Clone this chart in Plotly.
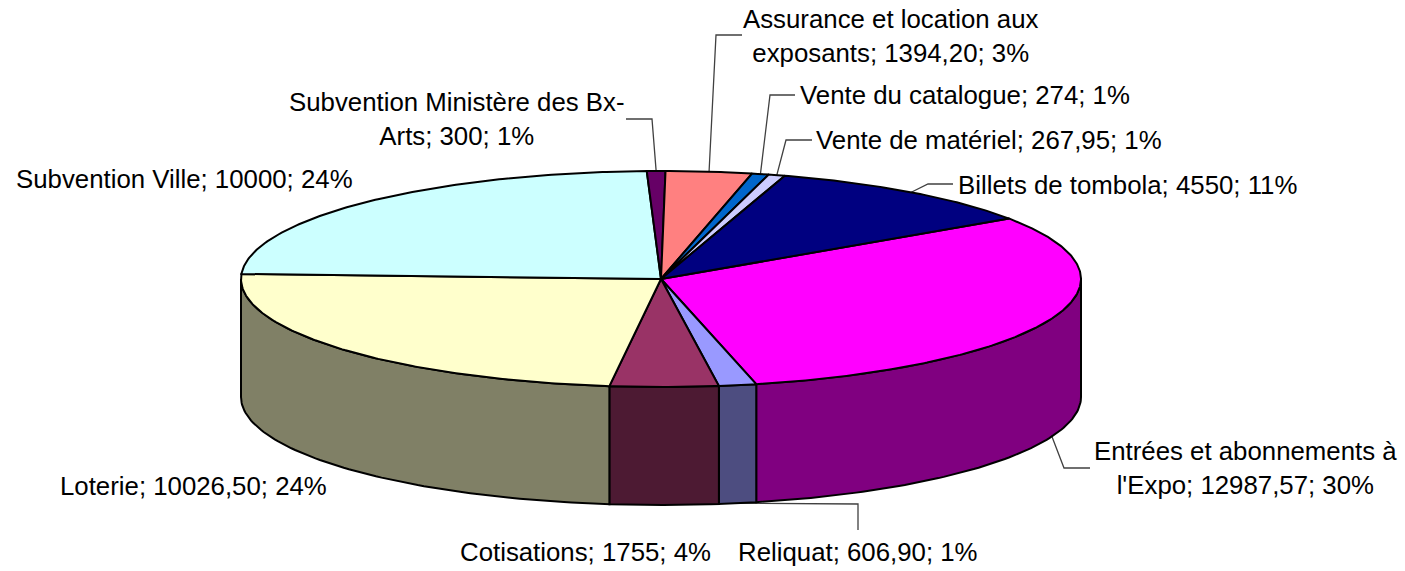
import numpy as np
import plotly.graph_objects as go

# --- data (clockwise from the top-right start angle)
categories = ["Entrées et abonnements à<br>l'Expo", "Reliquat", "Cotisations", "Loterie",
              "Subvention Ville", "Subvention Ministère des Bx-<br>Arts", "Assurance et location aux<br>exposants",
              "Vente du catalogue", "Vente de matériel", "Billets de tombola"]
values = [12987.57, 606.90, 1755, 10026.50, 10000, 300, 1394.20, 274, 267.95, 4550]
value_texts = ["12987,57", "606,90", "1755", "10026,50", "10000", "300", "1394,20", "274", "267,95", "4550"]
percent_texts = ["30%", "1%", "4%", "24%", "24%", "1%", "3%", "1%", "1%", "11%"]

# --- styling / layout
top_colors = ["#FF00FF", "#9999FF", "#993366", "#FFFFCC", "#CCFFFF", "#660066", "#FF8080", "#0066CC", "#CCCCFF", "#000080"]
side_colors = ["#800080", "#4D4D80", "#4D1A33", "#808066", "#668080", "#330033", "#804040", "#003366", "#666680", "#000040"]
label_x = [1245, 858, 585, 193, 184, 457, 891, 965, 989, 1127]
label_y = [468, 552, 552, 486, 179, 119, 36, 95, 140, 185]
leader_bends = {0: [(1064, 468), (1090, 468)], 1: [(858, 504), (858, 530)],
                5: [(652, 119), (626, 119)], 6: [(716, 35), (742, 35)],
                7: [(770, 95), (795, 95)], 8: [(786, 140), (812, 140)], 9: [(928, 184), (953, 184)]}
CX, CY, RX, RY, DEPTH = 661, 279, 420, 108, 118
START_DEG = 56
FONT = dict(family="Liberation Sans, Arial, sans-serif", size=25.8, color="black")
EDGE = dict(color="black", width=2)


def ex(deg):
    return CX + RX * np.sin(np.radians(deg))


def ey(deg):
    return CY - RY * np.cos(np.radians(deg))


spans = np.array(values) / sum(values) * 360
starts = START_DEG + np.concatenate([[0], np.cumsum(spans)[:-1]])
ends = starts + spans
fig = go.Figure()

# leader lines, beneath the pie
for i, bends in leader_bends.items():
    mid = (starts[i] + ends[i]) / 2
    front = 90 < (mid % 360) < 270
    xs = [ex(mid)] + [p[0] for p in bends]
    ys = [ey(mid) + (DEPTH if front else 0)] + [p[1] for p in bends]
    fig.add_trace(go.Scatter(x=xs, y=ys, mode="lines", line=dict(color="#404040", width=1.3), hoverinfo="skip"))

# side walls: only the part of each slice on the front half
for i in range(len(values)):
    a, b = max(starts[i], 90), min(ends[i], 270)
    if b <= a:
        continue
    t = np.linspace(a, b, 80)
    xs = np.concatenate([ex(t), ex(t[::-1])])
    ys = np.concatenate([ey(t), ey(t[::-1]) + DEPTH])
    fig.add_trace(go.Scatter(x=np.append(xs, xs[0]), y=np.append(ys, ys[0]), mode="lines", fill="toself",
                             fillcolor=side_colors[i], line=EDGE, hoverinfo="skip"))

# top faces
for i in range(len(values)):
    t = np.linspace(starts[i], ends[i], max(4, int(spans[i] * 2)))
    xs = np.concatenate([[CX], ex(t), [CX]])
    ys = np.concatenate([[CY], ey(t), [CY]])
    fig.add_trace(go.Scatter(x=xs, y=ys, mode="lines", fill="toself", fillcolor=top_colors[i],
                             line=EDGE, hoverinfo="skip"))

for i, c in enumerate(categories):
    fig.add_annotation(x=label_x[i], y=label_y[i], text=f"{c}; {value_texts[i]}; {percent_texts[i]}",
                       showarrow=False, xanchor="center", yanchor="middle", align="center", font=FONT)

fig.update_layout(width=1405, height=571, autosize=False, margin=dict(l=0, r=0, t=0, b=0),
                  paper_bgcolor="white", plot_bgcolor="white", showlegend=False,
                  xaxis=dict(range=[0, 1405], visible=False, fixedrange=True),
                  yaxis=dict(range=[571, 0], visible=False, fixedrange=True))
fig.write_html("out.html", config=dict(displayModeBar=False),
               post_script="document.body.style.margin='0';document.body.style.overflow='hidden';")
